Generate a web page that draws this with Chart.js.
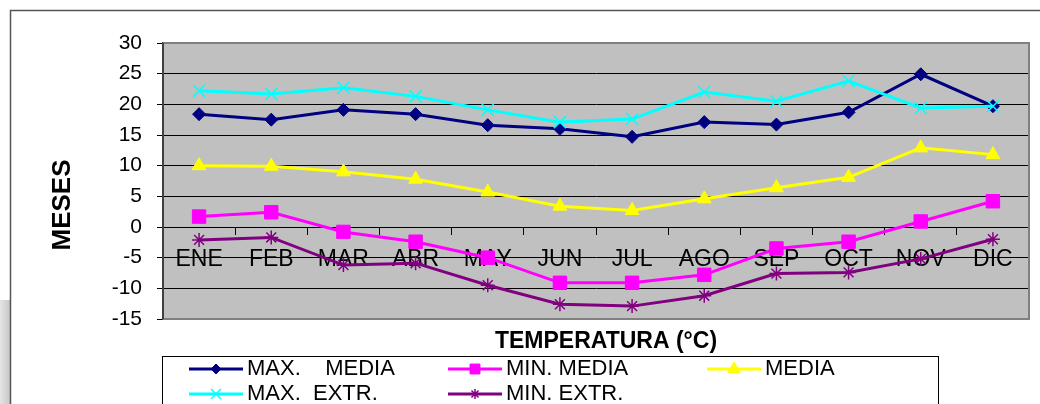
<!DOCTYPE html>
<html>
<head>
<meta charset="utf-8">
<script src="https://cdn.jsdelivr.net/npm/chart.js@4"></script>
<style>
    body { margin: 0; background: #fff; }
    #wrap { width: 1040px; height: 404px; }
</style>
</head>
<body>
<div id="wrap"><canvas id="chart" width="1040" height="404"></canvas></div>
<script>
// data
const months = ['ENE', 'FEB', 'MAR', 'ABR', 'MAY', 'JUN', 'JUL', 'AGO', 'SEP', 'OCT', 'NOV', 'DIC'];
const maxMedia = [18.4, 17.5, 19.1, 18.4, 16.6, 16.0, 14.7, 17.1, 16.7, 18.7, 24.9, 19.7];
const minMedia = [1.7, 2.4, -0.8, -2.4, -5.0, -9.1, -9.1, -7.8, -3.5, -2.4, 0.9, 4.2];
const media = [10.0, 9.9, 9.0, 7.8, 5.7, 3.4, 2.7, 4.6, 6.4, 8.1, 12.9, 11.8];
const maxExtr = [22.2, 21.7, 22.7, 21.3, 19.1, 17.1, 17.6, 22.0, 20.5, 23.8, 19.4, 19.7];
const minExtr = [-2.1, -1.7, -6.2, -5.9, -9.5, -12.6, -12.9, -11.2, -7.6, -7.4, -5.2, -2.0];
const seriesNames = ['MAX.    MEDIA', 'MIN. MEDIA', 'MEDIA', 'MAX.  EXTR.', 'MIN. EXTR.'];
const yMin = -15, yMax = 30, yStep = 5;

const FONT = '"Liberation Sans", Arial, sans-serif';

function line(label, data, color, style, radius, border, order) {
    return {
        label: label,
        data: data,
        borderColor: color,
        backgroundColor: color,
        borderWidth: 3,
        pointStyle: style,
        pointRadius: radius,
        pointBorderWidth: border,
        pointHoverRadius: radius,
        tension: 0,
        order: order
    };
}

// background, frame, titles and legend box
const decor = {
    id: 'decor',
    beforeDraw(chart) {
        const ctx = chart.ctx;
        const a = chart.chartArea;
        ctx.save();
        ctx.fillStyle = '#fff';
        ctx.fillRect(0, 0, chart.width, chart.height);
        const g = ctx.createLinearGradient(0, 0, 10, 0);
        g.addColorStop(0, '#e4e4e4');
        g.addColorStop(1, '#c8c8c8');
        ctx.fillStyle = g;
        ctx.fillRect(0, 300, 10, 104);
        ctx.strokeStyle = '#555';
        ctx.lineWidth = 1.5;
        ctx.beginPath();
        ctx.moveTo(10.5, 404);
        ctx.lineTo(10.5, 10.5);
        ctx.lineTo(1040, 10.5);
        ctx.stroke();
        ctx.fillStyle = '#c0c0c0';
        ctx.fillRect(a.left, a.top, a.right - a.left, a.bottom - a.top);
        ctx.restore();
    },
    beforeDatasetsDraw(chart) {
        const ctx = chart.ctx;
        const a = chart.chartArea;
        ctx.save();
        ctx.strokeStyle = '#808080';
        ctx.lineWidth = 2;
        ctx.beginPath();
        ctx.moveTo(a.left, a.top);
        ctx.lineTo(a.right, a.top);
        ctx.lineTo(a.right, a.bottom);
        ctx.lineTo(a.left, a.bottom);
        ctx.stroke();
        ctx.strokeStyle = '#404040';
        ctx.beginPath();
        ctx.moveTo(a.left, a.top);
        ctx.lineTo(a.left, a.bottom);
        ctx.stroke();
        ctx.restore();
    },
    afterDraw(chart) {
        const ctx = chart.ctx;
        ctx.save();
        ctx.fillStyle = '#000';
        ctx.textBaseline = 'middle';
        ctx.textAlign = 'center';
        ctx.font = 'bold 23px ' + FONT;
        ctx.fillText('TEMPERATURA (°C)', 606, 342);
        ctx.translate(63, 205);
        ctx.rotate(-Math.PI / 2);
        ctx.font = 'bold 26px ' + FONT;
        ctx.fillText('MESES', 0, 0);
        ctx.restore();

        // legend
        ctx.save();
        ctx.strokeStyle = '#000';
        ctx.lineWidth = 1;
        ctx.strokeRect(162.5, 356.5, 776, 80);
        const spots = [[189, 369], [448, 369], [707, 369], [189, 394], [448, 394]];
        const legendRadius = [5, 7, 7, 7, 5];
        ctx.font = '22px ' + FONT;
        ctx.textAlign = 'left';
        ctx.textBaseline = 'middle';
        chart.data.datasets.forEach((ds, i) => {
            const [x, y] = spots[i];
            ctx.strokeStyle = ds.borderColor;
            ctx.lineWidth = 3;
            ctx.beginPath();
            ctx.moveTo(x, y);
            ctx.lineTo(x + 54, y);
            ctx.stroke();
            ctx.fillStyle = ds.backgroundColor;
            ctx.lineWidth = ds.pointBorderWidth;
            Chart.helpers.drawPoint(ctx, {
                pointStyle: ds.pointStyle,
                radius: legendRadius[i],
                rotation: 0,
                borderWidth: ds.pointBorderWidth
            }, x + 27, y);
            ctx.fillStyle = '#000';
            ctx.fillText(ds.label, x + 58, y);
        });
        ctx.restore();
    }
};

new Chart(document.querySelector('#chart'), {
    type: 'line',
    data: {
        labels: months,
        datasets: [
            line(seriesNames[0], maxMedia, '#000080', 'rectRot', 6.5, 1, 5),
            line(seriesNames[1], minMedia, '#ff00ff', 'rect', 9.5, 1, 4),
            line(seriesNames[2], media, '#ffff00', 'triangle', 8, 1, 3),
            line(seriesNames[3], maxExtr, '#00ffff', 'crossRot', 8.5, 1.5, 2),
            line(seriesNames[4], minExtr, '#800080', 'star', 7, 1.5, 1)
        ]
    },
    options: {
        responsive: false,
        animation: false,
        layout: { padding: { top: 43, right: 11, bottom: 85, left: 0 } },
        plugins: {
            legend: { display: false },
            tooltip: { enabled: false }
        },
        scales: {
            x: {
                position: { y: 0 },
                offset: true,
                afterFit(scale) { scale.height = 0; },
                grid: {
                    offset: true,
                    drawOnChartArea: false,
                    color: '#000',
                    tickLength: 7
                },
                border: { color: '#000', width: 1 },
                ticks: {
                    color: '#000',
                    padding: 12,
                    maxRotation: 0,
                    autoSkip: false,
                    font: { family: FONT, size: 23 }
                }
            },
            y: {
                min: yMin,
                max: yMax,
                afterFit(scale) { scale.width = 163; },
                grid: { color: '#000', lineWidth: 1, tickLength: 6 },
                border: { color: '#404040', width: 2 },
                ticks: {
                    stepSize: yStep,
                    color: '#000',
                    padding: 15,
                    font: { family: FONT, size: 21 }
                }
            }
        }
    },
    plugins: [decor]
});
</script>
</body>
</html>
